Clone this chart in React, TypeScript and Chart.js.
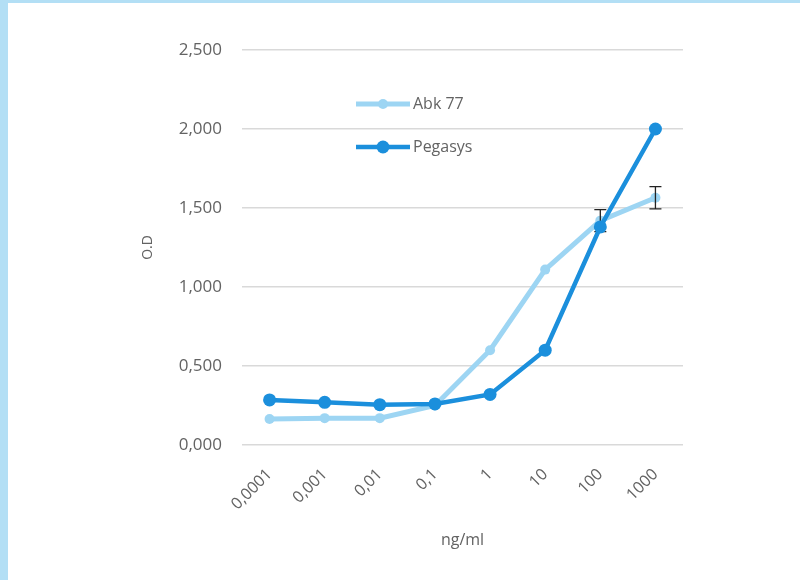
import { useEffect, useRef } from "react";
import { Chart, registerables } from "chart.js";

Chart.register(...registerables);

// Concentrations (ng/ml) along the category axis
const concentrations = ["0,0001", "0,001", "0,01", "0,1", "1", "10", "100", "1000"];
// Optical density readings
const abk77 = [0.165, 0.17, 0.17, 0.25, 0.6, 1.11, 1.42, 1.565];
const pegasys = [0.285, 0.27, 0.255, 0.26, 0.32, 0.6, 1.38, 2.0];
// Standard deviation shown as error bars on Abk 77
const abk77Error = [0, 0, 0, 0, 0, 0, 0.07, 0.07];
const yTicks = [0, 0.5, 1, 1.5, 2, 2.5];

const FONT = "'Open Sans', sans-serif";
const TEXT = "#636363";
const ABK_COLOR = "#9dd5f3";
const PEG_COLOR = "#1b8fdc";

const framePlugin = {
  id: "frame",
  beforeDraw(chart: any) {
    const { ctx, width, height } = chart;
    ctx.save();
    ctx.fillStyle = "#ffffff";
    ctx.fillRect(0, 0, width, height);
    ctx.fillStyle = "#b3dff5";
    ctx.fillRect(0, 0, 8, height);
    ctx.fillRect(0, 0, width, 3);
    ctx.restore();
  },
};

// Error bars belong to the Abk 77 series, so they sit beneath the Pegasys line
const errorBarPlugin = {
  id: "errorBars",
  afterDatasetDraw(chart: any, args: any) {
    if (args.index !== 0) return;
    const { ctx } = chart;
    const xs = chart.scales.x;
    const ys = chart.scales.y;
    ctx.save();
    ctx.strokeStyle = "#222";
    ctx.lineWidth = 1.3;
    abk77Error.forEach((e, i) => {
      if (!e) return;
      const x = xs.getPixelForValue(i);
      const top = ys.getPixelForValue(abk77[i] + e);
      const bot = ys.getPixelForValue(abk77[i] - e);
      ctx.beginPath();
      ctx.moveTo(x, top);
      ctx.lineTo(x, bot);
      ctx.moveTo(x - 6, top);
      ctx.lineTo(x + 6, top);
      ctx.moveTo(x - 6, bot);
      ctx.lineTo(x + 6, bot);
      ctx.stroke();
    });
    ctx.restore();
  },
};

const legendPlugin = {
  id: "lineLegend",
  afterDraw(chart: any) {
    const { ctx } = chart;
    const entries = [chart.data.datasets[0], chart.data.datasets[1]];
    ctx.save();
    entries.forEach((ds: any, i: number) => {
      const y = 104 + i * 43;
      ctx.strokeStyle = ds.borderColor;
      ctx.lineWidth = ds.borderWidth;
      ctx.beginPath();
      ctx.moveTo(356, y);
      ctx.lineTo(410, y);
      ctx.stroke();
      ctx.fillStyle = ds.borderColor;
      ctx.beginPath();
      ctx.arc(383, y, ds.pointRadius, 0, Math.PI * 2);
      ctx.fill();
      ctx.fillStyle = TEXT;
      ctx.font = `16px ${FONT}`;
      ctx.textBaseline = "middle";
      ctx.textAlign = "left";
      ctx.fillText(ds.label, 413, y);
    });
    ctx.restore();
  },
};

export default function App() {
  const ref = useRef<HTMLCanvasElement>(null);

  useEffect(() => {
    if (!ref.current) return;
    const chart = new Chart(ref.current, {
      type: "line",
      data: {
        labels: concentrations,
        datasets: [
          {
            label: "Abk 77",
            data: abk77,
            borderColor: ABK_COLOR,
            backgroundColor: ABK_COLOR,
            borderWidth: 5,
            pointRadius: 5,
            pointBorderWidth: 0,
            pointBackgroundColor: ABK_COLOR,
            tension: 0,
            order: 1,
          },
          {
            label: "Pegasys",
            data: pegasys,
            borderColor: PEG_COLOR,
            backgroundColor: PEG_COLOR,
            borderWidth: 4.5,
            pointRadius: 6.5,
            pointBorderWidth: 0,
            pointBackgroundColor: PEG_COLOR,
            tension: 0,
            order: 0,
          },
        ],
      },
      options: {
        responsive: false,
        animation: false,
        layout: { padding: { top: 50, right: 117, left: 0, bottom: 0 } },
        plugins: {
          legend: { display: false },
          tooltip: { enabled: false },
        },
        scales: {
          x: {
            offset: true,
            grid: { display: false, drawTicks: false },
            border: { display: false },
            ticks: {
              minRotation: 45,
              maxRotation: 45,
              padding: 20,
              color: TEXT,
              font: { family: FONT, size: 16 },
            },
            title: {
              display: true,
              text: "ng/ml",
              color: TEXT,
              font: { family: FONT, size: 16 },
              padding: { top: 30, bottom: 30 },
            },
            afterFit: (s: any) => {
              s.height = 135;
            },
          },
          y: {
            min: 0,
            max: 2.5,
            afterBuildTicks: (s: any) => {
              s.ticks = yTicks.map((v) => ({ value: v }));
            },
            grid: { color: "#d9d9d9", lineWidth: 1.5, drawTicks: false },
            border: { display: false },
            ticks: {
              padding: 20,
              color: TEXT,
              font: { family: FONT, size: 17 },
              callback: (v: any) => Number(v).toFixed(3).replace(".", ","),
            },
            title: {
              display: true,
              text: "O.D",
              color: TEXT,
              font: { family: FONT, size: 14 },
              padding: { top: 140, bottom: 0 },
            },
            afterFit: (s: any) => {
              s.width = 242;
            },
          },
        },
      },
      plugins: [framePlugin, errorBarPlugin, legendPlugin],
    });
    return () => chart.destroy();
  }, []);

  return (
    <canvas
      ref={ref}
      width={800}
      height={580}
      style={{ position: "fixed", left: 0, top: 0, display: "block" }}
    />
  );
}
